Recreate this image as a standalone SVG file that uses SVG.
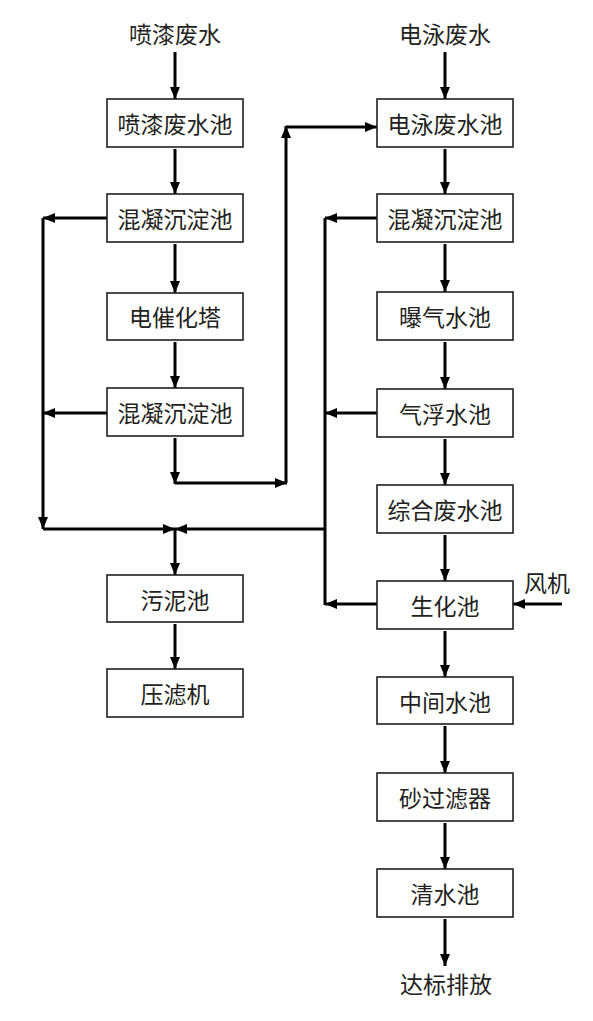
<svg xmlns="http://www.w3.org/2000/svg" width="593" height="1021" viewBox="0 0 593 1021">
<style>
.box{fill:#fff;stroke:#231f20;stroke-width:1.6}
.t{font-family:"Noto Sans CJK SC","Noto Sans",sans-serif;font-size:23px;fill:#231f20;text-anchor:middle;dominant-baseline:central}
.ln{fill:none;stroke:#000;stroke-width:3}
.ah{fill:#000;stroke:none}
</style>
<defs>
<marker id="a" viewBox="0 0 12 10" refX="12" refY="5" markerWidth="12" markerHeight="10" markerUnits="userSpaceOnUse" orient="auto">
<path class="ah" d="M0,0 L12,5 L0,10 Z"/>
</marker>
</defs>
<rect width="593" height="1021" fill="#fff"/>
<g id="connectors">
<path class="ln" d="M175,52 V99" marker-end="url(#a)"/>
<path class="ln" d="M175,149 V194" marker-end="url(#a)"/>
<path class="ln" d="M175,244 V293" marker-end="url(#a)"/>
<path class="ln" d="M175,342 V388" marker-end="url(#a)"/>
<path class="ln" d="M175,438 V484" marker-end="url(#a)"/>
<path class="ln" d="M175,483 H287" marker-end="url(#a)"/>
<path class="ln" d="M286,483 V126" marker-end="url(#a)"/>
<path class="ln" d="M286,127 H377" marker-end="url(#a)"/>
<path class="ln" d="M107,218 H43" marker-end="url(#a)"/>
<path class="ln" d="M107,413 H43" marker-end="url(#a)"/>
<path class="ln" d="M43,218 V529" marker-end="url(#a)"/>
<path class="ln" d="M43,529 H175" marker-end="url(#a)"/>
<path class="ln" d="M325,529 H175" marker-end="url(#a)"/>
<path class="ln" d="M175,529 V575" marker-end="url(#a)"/>
<path class="ln" d="M175,624 V669" marker-end="url(#a)"/>
<path class="ln" d="M445,52 V99" marker-end="url(#a)"/>
<path class="ln" d="M445,149 V194" marker-end="url(#a)"/>
<path class="ln" d="M445,244 V292" marker-end="url(#a)"/>
<path class="ln" d="M445,342 V389" marker-end="url(#a)"/>
<path class="ln" d="M445,439 V485" marker-end="url(#a)"/>
<path class="ln" d="M445,535 V581" marker-end="url(#a)"/>
<path class="ln" d="M445,631 V677" marker-end="url(#a)"/>
<path class="ln" d="M445,726 V773" marker-end="url(#a)"/>
<path class="ln" d="M445,823 V869" marker-end="url(#a)"/>
<path class="ln" d="M445,919 V966" marker-end="url(#a)"/>
<path class="ln" d="M377,218 H325" marker-end="url(#a)"/>
<path class="ln" d="M377,413 H325" marker-end="url(#a)"/>
<path class="ln" d="M377,604 H325" marker-end="url(#a)"/>
<path class="ln" d="M325,218 V605"/>
<path class="ln" d="M562,604 H513" marker-end="url(#a)"/>
</g>
<g id="src1"><text class="t" x="175" y="33">喷漆废水</text></g>
<g id="src2"><text class="t" x="445" y="33">电泳废水</text></g>
<g id="fan"><text class="t" x="547" y="582">风机</text></g>
<g id="out"><text class="t" x="446" y="983">达标排放</text></g>
<g id="L1"><rect class="box" x="107" y="99" width="136" height="48"/><text class="t" x="175" y="123">喷漆废水池</text></g>
<g id="L2"><rect class="box" x="107" y="194" width="136" height="48"/><text class="t" x="175" y="218">混凝沉淀池</text></g>
<g id="L3"><rect class="box" x="107" y="293" width="136" height="47"/><text class="t" x="175" y="316">电催化塔</text></g>
<g id="L4"><rect class="box" x="107" y="388" width="136" height="48"/><text class="t" x="175" y="412">混凝沉淀池</text></g>
<g id="L5"><rect class="box" x="107" y="575" width="136" height="47"/><text class="t" x="175" y="599">污泥池</text></g>
<g id="L6"><rect class="box" x="107" y="669" width="136" height="48"/><text class="t" x="175" y="693">压滤机</text></g>
<g id="R1"><rect class="box" x="377" y="99" width="136" height="48"/><text class="t" x="445" y="123">电泳废水池</text></g>
<g id="R2"><rect class="box" x="377" y="194" width="136" height="48"/><text class="t" x="445" y="218">混凝沉淀池</text></g>
<g id="R3"><rect class="box" x="377" y="292" width="136" height="48"/><text class="t" x="445" y="316">曝气水池</text></g>
<g id="R4"><rect class="box" x="377" y="389" width="136" height="48"/><text class="t" x="445" y="413">气浮水池</text></g>
<g id="R5"><rect class="box" x="377" y="485" width="136" height="48"/><text class="t" x="445" y="509">综合废水池</text></g>
<g id="R6"><rect class="box" x="377" y="581" width="136" height="48"/><text class="t" x="445" y="605">生化池</text></g>
<g id="R7"><rect class="box" x="377" y="677" width="136" height="47"/><text class="t" x="445" y="701">中间水池</text></g>
<g id="R8"><rect class="box" x="377" y="773" width="136" height="48"/><text class="t" x="445" y="797">砂过滤器</text></g>
<g id="R9"><rect class="box" x="377" y="869" width="136" height="48"/><text class="t" x="445" y="893">清水池</text></g>
</svg>
